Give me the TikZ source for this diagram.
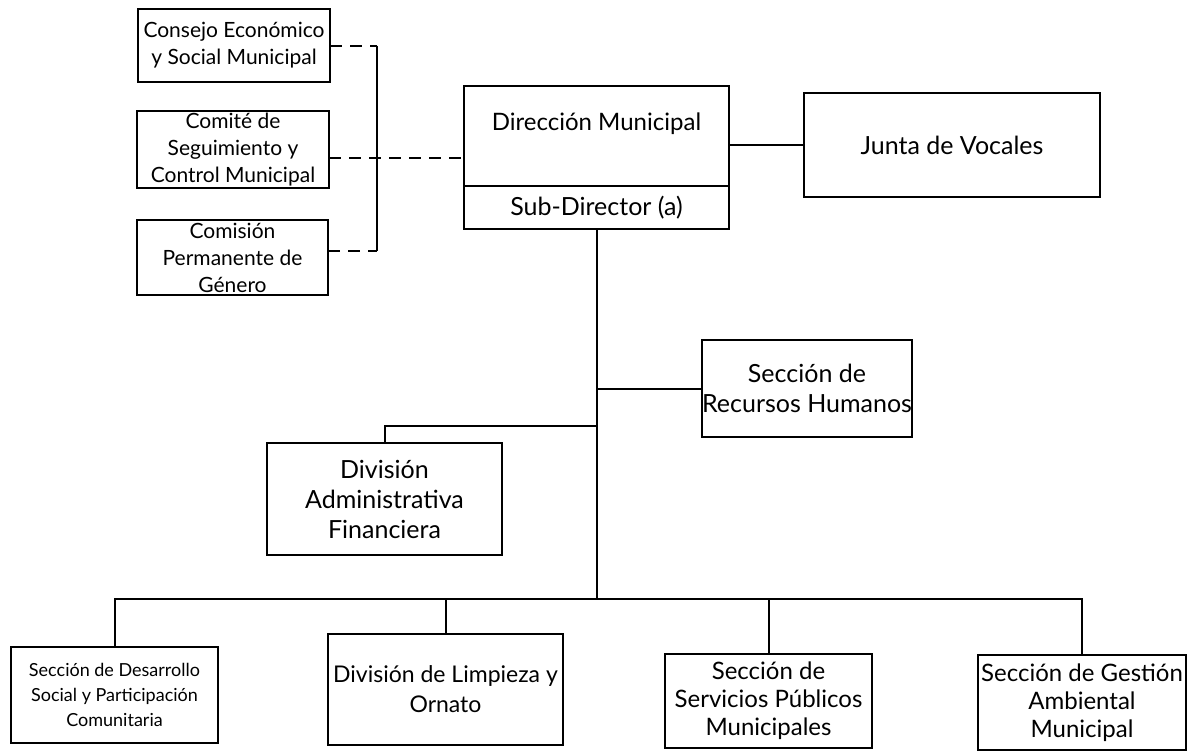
\documentclass[tikz,border=0pt]{standalone}
\usepackage{fontspec}
\setmainfont{Lato}
\usetikzlibrary{positioning}

\begin{document}
\begin{tikzpicture}[x=0.5pt,y=-0.5pt,
    box/.style={draw, line width=1pt, outer sep=0pt, inner sep=1pt, align=center,
      font=\fontsize{10.5}{13.5}\selectfont},
    big/.style={font=\fontsize{12}{14}\selectfont},
    link/.style={line width=1pt},
    dashlink/.style={link, dash pattern=on 6pt off 4pt}]
    \useasboundingbox (0,0) rectangle (1188,751);
    % consejos a la izquierda
    \node[box, minimum width=96pt, minimum height=36.5pt] (consejo) at (234,45.5)
      {Consejo Económico\\y Social Municipal};
    \node[box, minimum width=96pt, minimum height=36.5pt] (comite) at (233,149.5)
      {Comité de\\Seguimiento y\\Control Municipal};
    \node[box, minimum width=95.5pt, minimum height=37.5pt] (comision) at (232.5,257.5)
      {Comisión\\Permanente de\\Género};
    % dirección
    \node[box, big, minimum width=132.5pt, minimum height=50pt] (dir) at (596.5,136)
      {Dirección Municipal\\[0pt]\mbox{}};
    \node[box, below = 0pt of dir, minimum width=132.5pt, minimum height=21.5pt, font=\fontsize{12.5}{14}\selectfont] (sub)
      {Sub-Director (a)};
    \node[box, minimum width=148pt, minimum height=52pt, font=\fontsize{12.5}{14}\selectfont] (junta) at (952,145)
      {Junta de Vocales};
    % primer nivel
    \node[box, minimum width=104pt, minimum height=48.5pt, inner sep=0pt, font=\fontsize{12.5}{15}\selectfont] (rh) at (807,388.5)
      {Sección de\\Recursos Humanos};
    \node[box, minimum width=117.5pt, minimum height=56pt, font=\fontsize{12.5}{15}\selectfont] (admin) at (384.5,499)
      {División\\Administrativa\\Financiera};
    % segundo nivel
    \node[box, minimum width=103.5pt, minimum height=48pt, font=\fontsize{9}{12.5}\selectfont] (desarrollo) at (114.5,695)
      {Sección de Desarrollo\\Social y Participación\\Comunitaria};
    \node[box, minimum width=117.5pt, minimum height=55.5pt, inner sep=0pt, font=\fontsize{11.5}{15}\selectfont] (limpieza) at (445.5,689.5)
      {División de Limpieza y\\Ornato};
    \node[box, big, minimum width=103.5pt, minimum height=47pt, inner sep=0pt] (servicios) at (768.5,701)
      {Sección de\\Servicios Públicos\\Municipales};
    \node[box, big, minimum width=104pt, minimum height=47.5pt, inner sep=0pt] (gestion) at (1082,702.5)
      {Sección de Gestión\\Ambiental\\Municipal};
    % puntos de unión
    \coordinate (brk) at (377,0);
    \coordinate (cstub) at ([yshift=-4.25pt]comite.east);
    \coordinate (mstub) at ([yshift=3.25pt]comision.east);
    \coordinate (admfork) at (598,426);
    \coordinate (bus) at (598,599);
    % líneas de coordinación
    \draw[dashlink] (consejo.east) -- (consejo.east -| brk);
    \draw[dashlink] (mstub) -- (mstub -| brk);
    \draw[link] (consejo.east -| brk) -- (mstub -| brk);
    \draw[dashlink] (cstub) -- (cstub -| dir.west);
    \draw[link] (dir.east |- junta.west) -- (junta.west);
    % línea de mando
    \draw[link] (sub.south) -- (sub.south |- bus);
    \draw[link] (sub.south |- rh.west) -- (rh.west);
    \draw[link] (admin.north) |- (admfork);
    \draw[link] (desarrollo.north) |- (gestion.north |- bus) -- (gestion.north);
    \draw[link] (limpieza.north) -- (limpieza.north |- bus);
    \draw[link] (servicios.north) -- (servicios.north |- bus);
\end{tikzpicture}
\end{document}
